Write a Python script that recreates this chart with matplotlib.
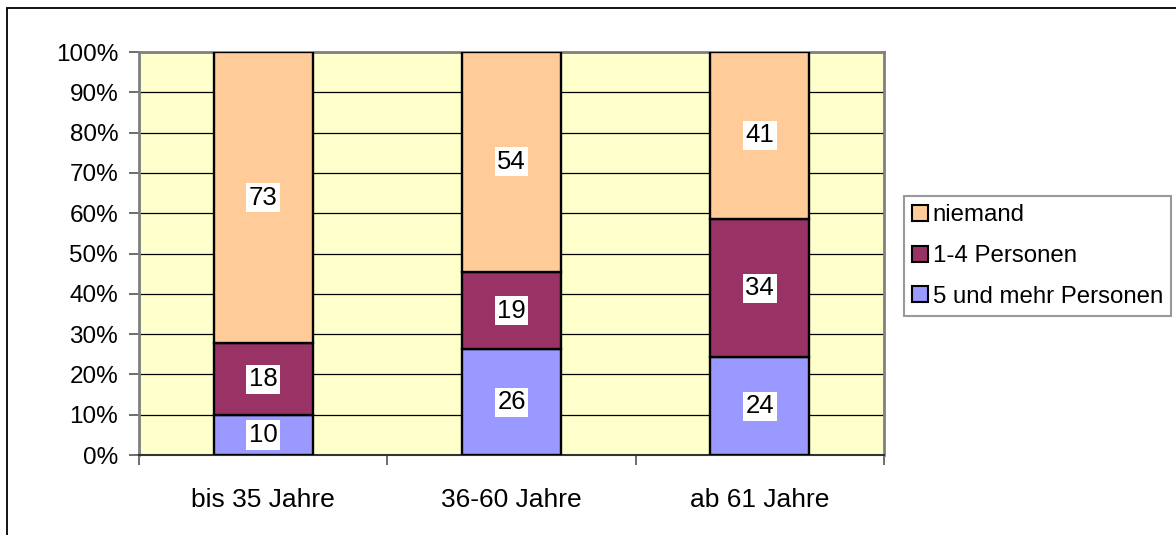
import numpy as np
import matplotlib.pyplot as plt
from matplotlib.patches import Rectangle, Patch

plt.rcParams['font.family'] = ['Liberation Sans', 'DejaVu Sans']

#data
categories = ['bis 35 Jahre', '36-60 Jahre', 'ab 61 Jahre']
series_names = ['5 und mehr Personen', '1-4 Personen', 'niemand']
mehr = [10, 26, 24]
wenig = [18, 19, 34]
niemand = [73, 54, 41]
colors = ['#9999FF', '#993366', '#FFCC99']

values = np.array([mehr, wenig, niemand], dtype=float)
totals = values.sum(axis=0)
shares = values / totals * 100

fig = plt.figure(figsize=(11.76, 5.35), dpi=100)
ax = fig.add_axes([0.1182, 0.1495, 0.6335, 0.7533])
ax.set_facecolor('#FFFFCC')

x = np.arange(len(categories))
bottom = np.zeros(len(categories))
for i in range(len(series_names)):
    ax.bar(x, shares[i], 0.4, bottom=bottom, color=colors[i],
           edgecolor='black', linewidth=1.7, zorder=3)
    for j in range(len(categories)):
        ax.text(x[j], bottom[j] + shares[i][j] / 2, '%d' % values[i][j],
                ha='center', va='center', fontsize=18.5, zorder=4,
                bbox=dict(facecolor='white', edgecolor='none', pad=1.8))
    bottom = bottom + shares[i]

ax.set_xlim(-0.5, 2.5)
ax.set_ylim(0, 100)
ax.set_yticks(np.arange(0, 101, 10))
ax.set_yticklabels(['%d%%' % v for v in range(0, 101, 10)], fontsize=17.5)
ax.yaxis.grid(True, color='black', linewidth=0.9, zorder=1)
ax.set_axisbelow(True)

# category ticks between groups, labels centered
ax.set_xticks([-0.5, 0.5, 1.5, 2.5])
ax.set_xticklabels([])
ax.set_xticks(x, minor=True)
ax.set_xticklabels(categories, minor=True, fontsize=19)
ax.tick_params(axis='x', which='minor', length=0, pad=24)
ax.tick_params(axis='x', which='major', length=7, width=1.2, color='#555555')
ax.tick_params(axis='y', length=7, width=1.2, color='#555555', pad=8)

for s in ['top', 'right', 'left']:
    ax.spines[s].set_color('#808080')
    ax.spines[s].set_linewidth(2)
ax.spines['bottom'].set_color('#333333')
ax.spines['bottom'].set_linewidth(1.5)

#legend
handles = [Patch(facecolor=colors[i], edgecolor='black', linewidth=1.5)
           for i in [2, 1, 0]]
labels = [series_names[i] for i in [2, 1, 0]]
leg = fig.legend(handles, labels, loc='upper left',
                 bbox_to_anchor=(0.7687, 0.6336), bbox_transform=fig.transFigure,
                 fontsize=17.3, frameon=True, fancybox=False, borderaxespad=0,
                 handlelength=0.65, handleheight=0.65, handletextpad=0.2,
                 borderpad=0.35, labelspacing=0.78)
leg.get_frame().set_edgecolor('#808080')
leg.get_frame().set_linewidth(1.5)

# chart border (top and left visible)
fig.add_artist(Rectangle((7 / 1176, -0.1), 1.2, 1 - 8 / 535 + 0.1,
                         transform=fig.transFigure, fill=False,
                         edgecolor='black', linewidth=1.3))

fig.savefig('out.png', dpi=100)
